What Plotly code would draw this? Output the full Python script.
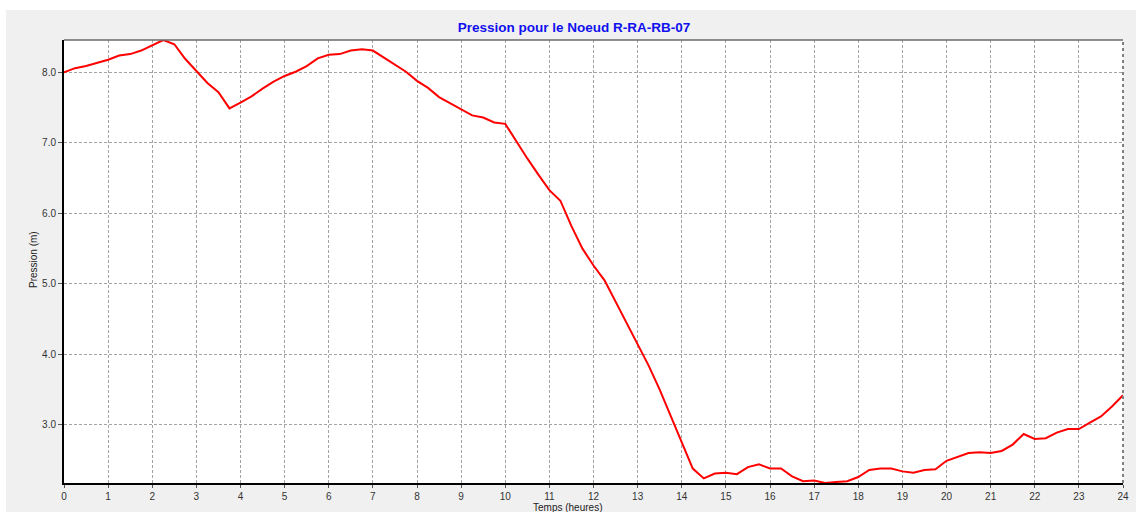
import plotly.graph_objects as go

hours = [i * 0.25 for i in range(97)]
pression = [
    8.00, 8.06, 8.09, 8.13, 8.18, 8.24, 8.26, 8.31, 8.38, 8.46, 8.40, 8.19,
    8.02, 7.85, 7.72, 7.49, 7.57, 7.66, 7.77, 7.87, 7.95, 8.01, 8.09, 8.20,
    8.25, 8.26, 8.31, 8.33, 8.31, 8.21, 8.12, 8.01, 7.88, 7.78, 7.65, 7.56,
    7.47, 7.39, 7.36, 7.29, 7.27, 7.02, 6.78, 6.55, 6.33, 6.18, 5.82, 5.50,
    5.26, 5.05, 4.75, 4.44, 4.14, 3.84, 3.50, 3.12, 2.74, 2.38, 2.24, 2.31,
    2.32, 2.30, 2.40, 2.44, 2.38, 2.38, 2.27, 2.20, 2.21, 2.175, 2.19, 2.20,
    2.26, 2.36, 2.38, 2.38, 2.34, 2.32, 2.36, 2.37, 2.49, 2.55, 2.60, 2.61,
    2.60, 2.63, 2.72, 2.87, 2.80, 2.81, 2.89, 2.94, 2.94, 3.03, 3.12, 3.26,
    3.42,
]
x_ticks = list(range(0, 25))
y_ticks = [3.0, 4.0, 5.0, 6.0, 7.0, 8.0]

title_text = "Pression pour le Noeud R-RA-RB-07"
x_title = "Temps (heures)"
y_title = "Pression (m)"

W, H = 1136, 512
L, R, T, B = 64, 13, 40, 29
pw, ph = W - L - R, H - T - B

def px(xp):
    return (xp - L) / pw

def py(yp):
    return (H - B - yp) / ph

fig = go.Figure()
fig.add_trace(go.Scatter(
    x=hours, y=pression, mode="lines",
    line=dict(color="#ff0000", width=2),
    hoverinfo="x+y", showlegend=False,
))

tick_font = dict(family="Liberation Sans, Arial, sans-serif", size=10, color="#333333")
grid_color = "#a4a4a4"

fig.update_layout(
    width=W, height=H,
    margin=dict(l=L, r=R, t=T, b=B, pad=0, autoexpand=False),
    paper_bgcolor="#f0f0f0",
    plot_bgcolor="#ffffff",
    title=dict(
        text="<b>" + title_text + "</b>",
        font=dict(family="Liberation Sans, Arial, sans-serif", size=13.5, color="#1010ee"),
        x=574 / W, xref="container", xanchor="center",
        y=1 - 27 / H, yref="container", yanchor="middle",
    ),
    xaxis=dict(
        range=[0, 24], tickmode="array", tickvals=x_ticks,
        ticktext=[str(v) for v in x_ticks],
        showgrid=True, gridcolor=grid_color, griddash="3px,2px", gridwidth=1,
        showline=True, linecolor="#000000", linewidth=2,
        ticks="outside", ticklen=3, tickcolor="#555555",
        tickfont=tick_font, zeroline=False, automargin=False,
    ),
    yaxis=dict(
        range=[2.175, 8.46], tickmode="array", tickvals=y_ticks,
        ticktext=["%.1f" % v for v in y_ticks],
        showgrid=True, gridcolor=grid_color, griddash="3px,2px", gridwidth=1,
        showline=True, linecolor="#000000", linewidth=2,
        ticks="outside", ticklen=4, tickcolor="#555555",
        tickfont=tick_font, zeroline=False, automargin=False,
    ),
    shapes=[
        # white strips around the grey panel
        dict(type="rect", xref="paper", yref="paper", layer="below",
             x0=px(0), x1=px(6), y0=py(H), y1=py(0),
             fillcolor="#ffffff", line=dict(width=0)),
        dict(type="rect", xref="paper", yref="paper", layer="below",
             x0=px(0), x1=px(W), y0=py(10), y1=py(0),
             fillcolor="#ffffff", line=dict(width=0)),
        # top and right frame
        dict(type="line", xref="paper", yref="paper",
             x0=0, x1=1, y0=1, y1=1, line=dict(color="#6a6a6a", width=1.5)),
        dict(type="line", xref="paper", yref="paper",
             x0=1, x1=1, y0=0, y1=1, line=dict(color="#808080", width=2, dash="dot")),
    ],
    annotations=[
        dict(text=x_title, xref="paper", yref="paper",
             x=px(567), y=py(507), xanchor="center", yanchor="middle",
             showarrow=False,
             font=dict(family="Liberation Sans, Arial, sans-serif", size=10, color="#222222")),
        dict(text=y_title, xref="paper", yref="paper",
             x=px(33), y=py(260), xanchor="center", yanchor="middle",
             textangle=-90, showarrow=False,
             font=dict(family="Liberation Sans, Arial, sans-serif", size=10, color="#222222")),
    ],
)

fig.write_html(
    "out.html",
    config={"displayModeBar": False},
    post_script="document.body.style.margin='0';document.body.style.overflow='hidden';",
)
